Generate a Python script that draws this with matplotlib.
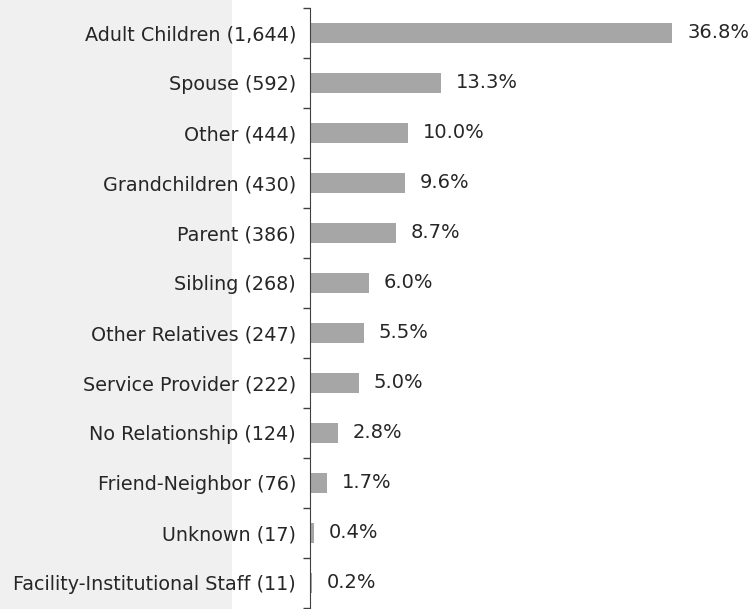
import matplotlib.pyplot as plt
from matplotlib.patches import Rectangle

CATEGORIES = [
    "Adult Children", "Spouse", "Other", "Grandchildren", "Parent", "Sibling",
    "Other Relatives", "Service Provider", "No Relationship", "Friend-Neighbor",
    "Unknown", "Facility-Institutional Staff",
]
COUNTS = [1644, 592, 444, 430, 386, 268, 247, 222, 124, 76, 17, 11]
PERCENTS = [36.8, 13.3, 10.0, 9.6, 8.7, 6.0, 5.5, 5.0, 2.8, 1.7, 0.4, 0.2]

TEXT = "#262626"
BAR = "#a6a6a6"

plt.rcParams["font.family"] = ["DejaVu Sans"]

fig = plt.figure(figsize=(7.55, 6.09), dpi=100)
fig.patches.append(Rectangle((0, 0), 232 / 755, 1, transform=fig.transFigure,
                             facecolor="#f0f0f0", edgecolor="none", zorder=-10))
ax = fig.add_axes([310 / 755, 1 / 609, 443 / 755, 600 / 609])
ax.set_facecolor("none")
ax.set_zorder(5)

n = len(CATEGORIES)
ys = list(range(n))
ax.barh(ys, PERCENTS, height=0.4, color=BAR, edgecolor="none")
for y, p in zip(ys, PERCENTS):
    ax.text(p + 1.5, y, f"{p:.1f}%", va="center", ha="left", fontsize=14, color=TEXT)

ax.set_ylim(n - 0.5, -0.5)
ax.set_xlim(0, 45)
ax.set_yticks(ys)
ax.set_yticklabels([f"{c} ({v:,})" for c, v in zip(CATEGORIES, COUNTS)], fontsize=13.8, color=TEXT)
ax.set_yticks([y - 0.5 for y in ys] + [n - 0.5], minor=True)
ax.tick_params(axis="y", which="major", length=0, pad=10)
ax.tick_params(axis="y", which="minor", length=5, color="#404040", width=1)
ax.set_xticks([])
for side in ("top", "right", "bottom"):
    ax.spines[side].set_visible(False)
ax.spines["left"].set_color("#404040")

fig.savefig("out.png", dpi=100)
